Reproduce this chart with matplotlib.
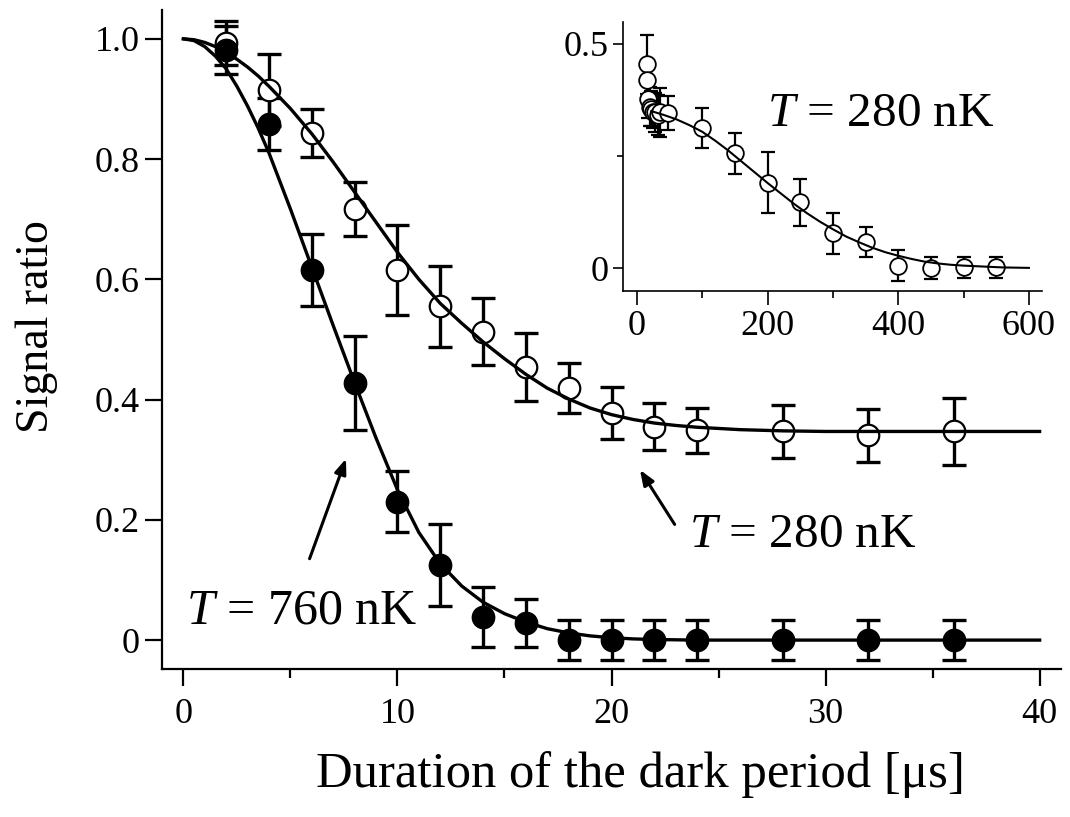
import matplotlib
matplotlib.use("Agg")
import matplotlib.pyplot as plt
from matplotlib.ticker import FixedLocator

plt.rcParams['font.family'] = ['Liberation Serif', 'DejaVu Serif']
plt.rcParams['mathtext.fontset'] = 'custom'
plt.rcParams['mathtext.it'] = 'Liberation Serif:italic'
plt.rcParams['mathtext.rm'] = 'Liberation Serif'

# ---------------- data: main panel ----------------
t_hot = [2, 4, 6, 8, 10, 12, 14, 16, 18, 20, 22, 24, 28, 32, 36]
y_hot = [0.982, 0.858, 0.616, 0.428, 0.230, 0.125, 0.039, 0.028, 0.0, 0.0, 0.0, 0.0, 0.0, 0.0, 0.0]
e_hot = [0.040, 0.043, 0.060, 0.078, 0.051, 0.068, 0.050, 0.040, 0.033, 0.033, 0.033, 0.033, 0.033, 0.033, 0.033]

t_cold = [2, 4, 6, 8, 10, 12, 14, 16, 18, 20, 22, 24, 28, 32, 36]
y_cold = [0.993, 0.915, 0.843, 0.717, 0.616, 0.555, 0.513, 0.454, 0.419, 0.378, 0.355, 0.349, 0.347, 0.341, 0.347]
e_cold = [0.036, 0.060, 0.040, 0.045, 0.075, 0.068, 0.056, 0.057, 0.042, 0.043, 0.039, 0.037, 0.044, 0.044, 0.055]

fit_t_hot = [0, 0.5, 1, 1.5, 2, 2.5, 3, 3.5, 4, 5, 6, 7, 8, 9, 10, 11, 12, 13, 14, 15, 16, 17, 18,
             19, 20, 21, 22, 24, 40]
fit_y_hot = [1.000, 0.997, 0.987, 0.971, 0.950, 0.921, 0.888, 0.851, 0.810, 0.717, 0.620, 0.523,
             0.428, 0.336, 0.250, 0.179, 0.127, 0.090, 0.063, 0.044, 0.030, 0.019, 0.012, 0.007,
             0.004, 0.002, 0.001, 0.000, 0.000]

fit_t_cold = [0, 0.5, 1, 1.5, 2, 2.5, 3, 3.5, 4, 5, 6, 7, 8, 9, 10, 11, 12, 13, 14, 15, 16, 17,
              18, 19, 20, 21, 22, 23, 24, 26, 28, 30, 40]
fit_y_cold = [1.000, 0.9985, 0.994, 0.987, 0.977, 0.966, 0.953, 0.938, 0.921, 0.884, 0.842, 0.795,
              0.745, 0.695, 0.645, 0.600, 0.560, 0.527, 0.496, 0.468, 0.442, 0.419, 0.401, 0.386,
              0.375, 0.367, 0.361, 0.357, 0.354, 0.350, 0.348, 0.347, 0.347]

x_ticks_main = [0, 10, 20, 30, 40]
x_minor_main = [5, 15, 25, 35]
y_ticks_main = [0, 0.2, 0.4, 0.6, 0.8, 1.0]
y_ticklabels_main = ['0', '0.2', '0.4', '0.6', '0.8', '1.0']

# ---------------- data: inset ----------------
t_in = [15, 16, 17, 20, 22, 24, 28, 32, 36, 48, 100, 150, 200, 250, 300, 350, 400, 450, 500, 550]
y_in = [0.454, 0.419, 0.378, 0.360, 0.355, 0.349, 0.347, 0.341, 0.347, 0.345, 0.312, 0.256, 0.191,
        0.147, 0.078, 0.059, 0.006, 0.001, 0.002, 0.002]
e_in = [0.066, 0.042, 0.043, 0.043, 0.039, 0.037, 0.044, 0.044, 0.055, 0.038, 0.044, 0.045, 0.067,
        0.052, 0.045, 0.033, 0.035, 0.024, 0.024, 0.024]

fit_t_in = [22, 40, 60, 80, 100, 120, 140, 160, 180, 200, 220, 240, 260, 280, 300, 320, 340, 360,
            380, 400, 420, 440, 460, 480, 500, 530, 560, 600]
fit_y_in = [0.350, 0.342, 0.332, 0.319, 0.304, 0.284, 0.262, 0.238, 0.214, 0.190, 0.167, 0.144, 0.123,
            0.104, 0.087, 0.071, 0.058, 0.046, 0.036, 0.028, 0.021, 0.015, 0.011, 0.008, 0.006,
            0.004, 0.002, 0.001]

x_ticks_in = [0, 200, 400, 600]
x_minor_in = [100, 300, 500]
y_ticks_in = [0, 0.5]
y_ticklabels_in = ['0', '0.5']
y_minor_in = [0.25]

# ---------------- figure ----------------
fig = plt.figure(figsize=(10.7, 8.17), dpi=100)
ax = fig.add_axes([0.1514, 0.1812, 0.8402, 0.8066])

for sp in ['top', 'right']:
    ax.spines[sp].set_visible(False)
for sp in ['left', 'bottom']:
    ax.spines[sp].set_linewidth(1.6)

eb_kw = dict(fmt='none', ecolor='black', elinewidth=2.4, capsize=8.5, capthick=2.4, zorder=1)
ax.errorbar(t_cold, y_cold, yerr=e_cold, **eb_kw)
ax.plot(t_cold, y_cold, 'o', ms=15.5, mfc='white', mec='black', mew=1.6, zorder=2, ls='none')
ax.errorbar(t_hot, y_hot, yerr=e_hot, **eb_kw)
ax.plot(t_hot, y_hot, 'o', ms=15.5, mfc='black', mec='black', mew=1.6, zorder=2, ls='none')
ax.plot(fit_t_cold, fit_y_cold, color='black', lw=2.4, zorder=3, solid_joinstyle='round')
ax.plot(fit_t_hot, fit_y_hot, color='black', lw=2.4, zorder=3, solid_joinstyle='round')

ax.set_xlim(-1, 41)
ax.set_ylim(-0.048, 1.048)
ax.xaxis.set_major_locator(FixedLocator(x_ticks_main))
ax.xaxis.set_minor_locator(FixedLocator(x_minor_main))
ax.set_xticklabels([str(v) for v in x_ticks_main])
ax.set_yticks(y_ticks_main)
ax.set_yticklabels(y_ticklabels_main)
ax.tick_params(axis='x', which='major', direction='out', length=12, width=1.6, labelsize=26, pad=9)
ax.tick_params(axis='x', which='minor', direction='out', length=6.5, width=1.6)
ax.tick_params(axis='y', which='major', direction='out', length=12, width=1.6, labelsize=26, pad=4)

ax.set_xlabel('Duration of the dark period [\u03bcs]', fontsize=36.5)
ax.xaxis.set_label_coords(0.532, -0.125)
ax.set_ylabel('Signal ratio', fontsize=33)
ax.yaxis.set_label_coords(-0.1157, 0.519)

# annotations
ax.annotate('', xy=(7.64, 0.306), xytext=(5.85, 0.131),
            arrowprops=dict(arrowstyle='-|>,head_length=0.9,head_width=0.35', color='black', lw=2.2))
ax.annotate('', xy=(21.26, 0.287), xytext=(23.02, 0.1885),
            arrowprops=dict(arrowstyle='-|>,head_length=0.9,head_width=0.35', color='black', lw=2.2))
ax.text(0.1, 0.028, '$T$ = 760 nK', fontsize=36, ha='left', va='baseline')
ax.text(23.6, 0.155, '$T$ = 280 nK', fontsize=35.5, ha='left', va='baseline')

# ---------------- inset ----------------
ins = fig.add_axes([0.5822, 0.6438, 0.3916, 0.3296])
ins.patch.set_alpha(0)
for sp in ['top', 'right']:
    ins.spines[sp].set_visible(False)
for sp in ['left', 'bottom']:
    ins.spines[sp].set_linewidth(1.2)

ins.errorbar(t_in, y_in, yerr=e_in, fmt='none', ecolor='black', elinewidth=1.6,
             capsize=4.8, capthick=1.6, zorder=1)
ins.plot(t_in, y_in, 'o', ms=12, mfc='white', mec='black', mew=1.3, zorder=2, ls='none')
ins.plot(fit_t_in, fit_y_in, color='black', lw=1.5, zorder=3)

ins.set_xlim(-21.4, 620)
ins.set_ylim(-0.0505, 0.549)
ins.xaxis.set_major_locator(FixedLocator(x_ticks_in))
ins.xaxis.set_minor_locator(FixedLocator(x_minor_in))
ins.set_xticklabels([str(v) for v in x_ticks_in])
ins.yaxis.set_major_locator(FixedLocator(y_ticks_in))
ins.yaxis.set_minor_locator(FixedLocator(y_minor_in))
ins.set_yticklabels(y_ticklabels_in)
ins.tick_params(axis='x', which='major', direction='out', length=10, width=1.2, labelsize=26, pad=4)
ins.tick_params(axis='x', which='minor', direction='out', length=5, width=1.2)
ins.tick_params(axis='y', which='major', direction='out', length=7, width=1.2, labelsize=26, pad=3)
ins.tick_params(axis='y', which='minor', direction='out', length=4, width=1.2)
ins.text(198.5, 0.317, '$T$ = 280 nK', fontsize=35.5, ha='left', va='baseline')

fig.savefig('out.png', dpi=100)
